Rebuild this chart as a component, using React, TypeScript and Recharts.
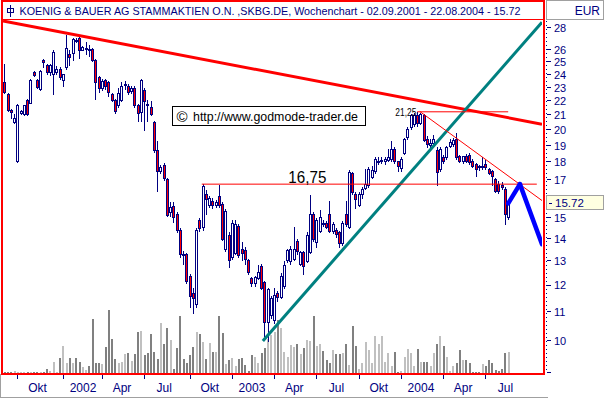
import React from 'react';
import { ComposedChart, Bar, XAxis, YAxis, ReferenceLine, ReferenceDot } from 'recharts';

const NAVY = '#000080';
const FONT = '"Liberation Sans", Arial, sans-serif';

// Weekly candles, week 0 = 03.09.2001 ... week 155 = 16.08.2004
const openP = [
  23.47, 22.5, 21.4, 20.55, 18.05, 21.2, 21.1, 22.1, 21.9, 24.2,
  23.6, 22.9, 25.2, 24.8, 24.2, 24.05, 24.2, 24.5, 23.6, 24.6,
  25.7, 25.8, 26.95, 27.05, 26.05, 26.2, 26.15, 26.1, 25.2, 23.8,
  22.95, 23.6, 23.4, 22.5, 22.1, 21.7, 22.1, 23.2, 23.1, 22.75,
  22.95, 21.7, 21.25, 22.8, 21.8, 21.6, 20.55, 18.75, 17.5, 17.85,
  17.05, 15.3, 15.6, 15.2, 14.4, 13.3, 13.3, 12.4, 11.7, 11.3,
  14.9, 14.55, 16.2, 15.65, 15.85, 15.65, 16.1, 15.7, 13.55, 14.15,
  13.2, 13.35, 14.6, 13.55, 13.5, 13.05, 12.3, 12.1, 12.3, 12.8,
  12.15, 10.65, 10.9, 10.7, 11.7, 11.55, 12.0, 13.05, 13.0, 13.1,
  13.9, 12.9, 13.4, 13.0, 13.4, 15.2, 13.85, 14.35, 14.75, 14.75,
  15.2, 14.35, 14.4, 14.3, 13.8, 15.2, 14.55, 17.35, 16.2, 15.65,
  16.2, 16.55, 16.7, 17.15, 17.5, 18.05, 18.1, 18.05, 18.15, 18.2,
  18.8, 18.05, 17.65, 18.55, 19.55, 20.2, 20.4, 21.0, 20.5, 21.05,
  19.4, 19.05, 19.15, 18.75, 17.6, 18.3, 18.3, 19.0, 19.1, 19.45,
  18.35, 18.1, 18.4, 18.45, 18.1, 17.9, 17.8, 17.7, 17.9, 17.6,
  17.5, 17.05, 16.75, 16.7, 16.5, 15.05,
];
const highP = [
  24.9, 22.6, 21.45, 21.1, 21.8, 21.4, 21.75, 22.2, 23.65, 24.3,
  23.7, 24.4, 25.3, 24.9, 24.9, 26.0, 24.7, 24.6, 24.1, 27.4,
  26.0, 27.1, 27.1, 27.2, 26.4, 26.7, 26.5, 26.2, 25.3, 23.9,
  23.7, 23.7, 23.5, 22.6, 22.2, 23.0, 23.4, 23.5, 23.3, 23.1,
  23.1, 21.8, 23.7, 23.0, 22.1, 22.0, 20.6, 19.3, 17.85, 17.95,
  17.1, 15.8, 15.8, 15.3, 14.5, 13.45, 13.35, 12.45, 11.9, 14.5,
  15.0, 16.75, 16.45, 16.1, 16.0, 15.9, 16.7, 15.8, 15.45, 14.3,
  14.9, 14.9, 14.7, 13.85, 13.6, 13.1, 12.35, 12.4, 12.85, 12.9,
  12.2, 11.9, 11.6, 11.9, 11.8, 12.5, 13.0, 13.55, 13.65, 14.55,
  14.0, 13.45, 13.45, 14.3, 16.15, 15.3, 15.0, 15.4, 14.9, 14.85,
  15.85, 14.8, 14.5, 14.35, 14.85, 15.85, 17.55, 17.45, 16.3, 16.3,
  16.6, 17.6, 17.7, 17.8, 18.3, 18.3, 18.3, 18.3, 18.8, 19.3,
  18.9, 18.1, 18.3, 19.5, 20.2, 21.1, 21.15, 21.25, 21.2, 21.1,
  19.6, 19.4, 19.7, 18.9, 18.95, 18.45, 19.0, 19.4, 19.5, 19.8,
  18.45, 18.4, 18.5, 18.55, 18.2, 17.95, 17.85, 18.3, 18.15, 17.65,
  17.55, 17.1, 16.9, 16.85, 16.6, 15.85,
];
const lowP = [
  22.6, 21.3, 20.85, 20.5, 18.0, 21.1, 21.05, 21.05, 21.85, 23.9,
  23.0, 22.85, 24.6, 24.1, 24.0, 22.5, 24.1, 23.7, 23.1, 24.5,
  24.8, 25.2, 26.7, 25.4, 26.0, 25.7, 25.5, 25.1, 22.2, 22.7,
  22.8, 22.9, 22.4, 22.0, 21.2, 21.6, 22.0, 22.9, 22.5, 22.6,
  21.6, 20.6, 20.6, 20.0, 20.6, 21.0, 18.6, 16.4, 17.4, 17.0,
  15.1, 15.1, 14.8, 14.3, 13.2, 12.9, 12.1, 11.2, 10.95, 11.2,
  14.35, 14.4, 15.2, 15.55, 15.5, 15.55, 15.55, 13.95, 13.45, 12.75,
  13.1, 13.3, 13.2, 13.05, 12.9, 12.45, 12.0, 12.0, 12.25, 11.85,
  10.15, 10.0, 10.8, 10.6, 11.4, 11.5, 11.9, 12.95, 12.9, 13.05,
  13.3, 12.85, 12.45, 12.95, 13.35, 13.9, 13.6, 14.3, 14.6, 14.5,
  14.3, 14.25, 14.1, 13.6, 13.7, 14.6, 14.5, 16.2, 15.5, 15.6,
  16.0, 16.5, 16.6, 17.1, 17.4, 17.9, 17.95, 17.9, 18.1, 18.1,
  17.95, 17.5, 17.5, 18.5, 19.4, 20.1, 20.3, 20.3, 20.4, 19.3,
  18.95, 18.8, 19.0, 16.7, 17.5, 17.95, 18.2, 18.9, 19.0, 18.2,
  18.0, 17.95, 18.0, 17.9, 17.7, 17.2, 17.55, 17.6, 17.6, 17.3,
  16.7, 16.3, 16.25, 16.5, 14.7, 14.95,
];
const closeP = [
  22.7, 21.4, 21.25, 20.85, 21.75, 21.3, 21.7, 21.1, 23.6, 23.95,
  23.05, 24.3, 25.0, 24.2, 24.8, 25.9, 24.5, 23.8, 24.05, 26.2,
  25.45, 27.0, 26.8, 26.05, 26.3, 26.25, 26.1, 25.2, 23.4, 23.0,
  23.55, 23.1, 22.7, 22.1, 21.3, 22.6, 23.1, 23.25, 22.65, 22.95,
  21.7, 21.2, 23.6, 22.05, 21.75, 21.1, 18.75, 17.5, 17.75, 17.1,
  15.15, 15.55, 15.05, 14.4, 13.3, 13.28, 12.2, 11.6, 11.5, 14.4,
  14.5, 16.65, 15.95, 16.0, 15.65, 15.8, 15.65, 14.0, 15.35, 13.05,
  14.75, 14.7, 13.25, 13.35, 13.1, 12.55, 12.1, 12.35, 12.55, 11.9,
  10.65, 11.85, 11.5, 11.65, 11.55, 12.4, 12.85, 13.5, 13.55, 13.55,
  13.45, 13.4, 12.8, 14.15, 15.2, 14.0, 14.9, 15.05, 14.7, 14.55,
  14.35, 14.7, 14.2, 13.8, 14.75, 14.7, 17.45, 16.3, 15.95, 16.2,
  16.5, 16.75, 17.6, 17.55, 18.2, 18.1, 18.15, 18.2, 18.3, 18.8,
  18.05, 17.8, 18.2, 19.45, 20.1, 21.0, 21.0, 20.5, 21.1, 19.35,
  19.1, 19.2, 19.45, 17.45, 18.8, 18.1, 18.9, 19.25, 19.35, 18.3,
  18.1, 18.35, 18.1, 18.0, 17.8, 17.6, 17.7, 17.8, 17.75, 17.4,
  17.2, 16.4, 16.35, 16.6, 15.2, 15.72,
];
// weekly volume (relative units)
const volume = [
  1.4, 0.6, 0.6, 2.4, 1, 1, 1, 1, 1, 0.8,
  1, 1, 0.8, 3.8, 2.4, 11, 1.5, 15.2, 26.6, 10,
  15.2, 10, 15.2, 11, 5.9, 3.1, 7.3, 54, 10, 10,
  9.3, 25.6, 63, 34.3, 14.2, 10, 11, 18.7, 20.4, 12.5,
  18.7, 41.2, 42.2, 17.6, 19.7, 39.1, 21.1, 14.2, 50.5, 28.7,
  45.3, 33.2, 3.8, 24.6, 56.7, 14.2, 10, 17.6, 25.6, 41.2,
  39.4, 30.8, 14.2, 29.8, 21.5, 21.5, 56.7, 40.1, 9.3, 12.8,
  15.2, 7.3, 14.2, 15.2, 8.3, 2.1, 18.3, 16.3, 10, 20.4,
  24.6, 34.3, 37.7, 41.2, 52.6, 44.6, 21.1, 16.3, 28, 26.3,
  28.7, 18.7, 25.3, 32.9, 32.2, 56.7, 27.3, 29.1, 22.1, 12.8,
  10, 22.8, 19.4, 19.4, 20.4, 28.7, 8.3, 47.4, 26.6, 3.8,
  10, 30.8, 23.2, 10, 37, 29.1, 37, 11, 19.7, 7.3,
  21.1, 1, 2.4, 16.3, 23.9, 19.7, 7.3, 23.9, 11, 11,
  11, 7.3, 20.4, 29.1, 37, 26.6, 16.3, 2.4, 7.3, 10,
  23.2, 12.8, 12.8, 10, 1.4, 1.4, 1.4, 9.3, 6.6, 12.8,
  10, 3.1, 1.7, 3.8, 20.4, 21.5,
];

const titleName = 'KOENIG & BAUER AG STAMMAKTIEN O.N. ,SKBG.DE, Wochenchart';
const periodStart = '02.09.2001';
const periodEnd = '22.08.2004';
const currency = 'EUR';
const copyright = 'http://www.godmode-trader.de';

const xTickWeeks = [4, 18, 30, 43, 57, 70, 83, 96, 109, 122, 135, 148];
const xTickLabels = ['Okt', '2002', 'Apr', 'Jul', 'Okt', '2003', 'Apr', 'Jul', 'Okt', '2004', 'Apr', 'Jul'];
const yTicks = [9, 10, 11, 12, 13, 14, 15, 17, 18, 19, 20, 21, 22, 23, 24, 25, 26, 28];

const xDomain: [number, number] = [-0.46, 165.4];
const yDomain: [number, number] = [9, 28.74];

// drawn analysis: (week, price)
const resistanceLevel = 16.75;
const resistanceWeeks = [60.7, 163.8];
const topLevel = 21.25;
const topWeeks = [127.0, 155.0];
const downTrend = [{ x: -0.46, y: 28.65 }, { x: 165.4, y: 20.4 }];
const upTrend = [{ x: 79.5, y: 10.0 }, { x: 165.4, y: 28.53 }];
const shortTrend = [{ x: 127.8, y: 21.27 }, { x: 165.4, y: 15.87 }];
const projection = [{ x: 155, y: 15.72 }, { x: 158.6, y: 16.75 }, { x: 165.4, y: 13.75 }];
const resistanceLabelWeek = 93.2;
const topLabelWeek = 123.5;

const lastClose = closeP[closeP.length - 1];
const fmtDe = (v: number) => v.toFixed(2).replace('.', ',');

const rows = openP.map((o, i) => ({
  i,
  open: o,
  high: highP[i],
  low: lowP[i],
  close: closeP[i],
  range: [lowP[i], highP[i]],
  vol: volume[i],
}));

const Candle = (props: any) => {
  const { x, y, width, height, payload } = props;
  if (x == null || y == null || !payload) return null;
  const top = Math.min(y, y + height);
  const h = Math.abs(height);
  const { open, close, high, low } = payload;
  const lh = Math.log(high);
  const ll = Math.log(low);
  const toY = (p: number) => (lh === ll ? top : top + (h * (lh - Math.log(p))) / (lh - ll));
  const n = Math.round(x + width / 2);
  const t = Math.round(toY(Math.max(open, close)));
  const b = Math.round(toY(Math.min(open, close)));
  const up = close >= open;
  return (
    <g>
      <line x1={n + 0.5} x2={n + 0.5} y1={Math.round(top)} y2={Math.round(top + h) + 1} stroke={NAVY} strokeWidth={1} />
      <rect x={n - 0.5} y={t + 0.5} width={2} height={Math.max(b - t, 1)} fill={up ? '#ffffff' : '#ff0000'} stroke={NAVY} strokeWidth={1} />
    </g>
  );
};

const VolBar = (props: any) => {
  const { x, y, width, height, payload } = props;
  if (x == null || y == null || !payload) return null;
  const top = Math.round(Math.min(y, y + height));
  const bot = Math.round(Math.max(y, y + height));
  if (bot - top <= 0) return null;
  const n = Math.round(x + width / 2);
  return <rect x={n - 1} y={top} width={2} height={bot - top} fill={payload.close >= payload.open ? '#c0c0c0' : '#808080'} />;
};

const XTick = (props: any) => {
  const { x, y, index } = props;
  const xx = Math.round(x) + 0.5;
  return (
    <g>
      <line x1={xx} x2={xx} y1={y + 2} y2={y + 6} stroke={NAVY} strokeWidth={1} />
      <text x={x + 20} y={y + 19} textAnchor="middle" fontSize={12} fill={NAVY} fontFamily={FONT}>
        {xTickLabels[index]}
      </text>
    </g>
  );
};

const YTick = (props: any) => {
  const { x, y, payload } = props;
  const yy = Math.round(y) - 0.5;
  return (
    <g>
      <line x1={x + 5} x2={x + 9} y1={yy} y2={yy} stroke={NAVY} strokeWidth={1} />
      {y < 368 && (
        <text x={x + 12} y={y} dy="0.36em" fontSize={11} fill={NAVY} fontFamily={FONT}>
          {payload.value}
        </text>
      )}
    </g>
  );
};

const PriceTag = (props: any) => {
  const { cx, cy } = props;
  const yy = Math.round(cy);
  return (
    <g>
      <rect x={cx + 4.5} y={yy - 7.5} width={57} height={14} fill="#ffffe1" stroke="#a0a0a0" strokeWidth={1} />
      <line x1={cx + 7} x2={cx + 10} y1={yy + 0.5} y2={yy + 0.5} stroke={NAVY} strokeWidth={1} />
      <text x={cx + 13} y={yy} dy="0.38em" fontSize={11.5} fill={NAVY} fontFamily={FONT}>
        {lastClose.toFixed(2)}
      </text>
    </g>
  );
};

const ResistanceLabel = (props: any) => (
  <text x={props.cx} y={props.cy - 1} textAnchor="middle" fontSize={17} fill="#000" fontFamily={FONT} textLength={38} lengthAdjust="spacingAndGlyphs">
    {fmtDe(resistanceLevel)}
  </text>
);

const TopLabel = (props: any) => (
  <text x={props.cx} y={props.cy + 4} textAnchor="middle" fontSize={11} fill="#000" fontFamily={FONT} textLength={21} lengthAdjust="spacingAndGlyphs">
    {fmtDe(topLevel)}
  </text>
);

export default function App() {
  const title = `${titleName} - ${periodStart} - ${periodEnd} - ${lastClose.toFixed(2)}`;
  return (
    <div style={{ position: 'absolute', left: 0, top: 0, width: 606, height: 399, background: '#ffffff', overflow: 'hidden' }}>
      <svg width={606} height={399} style={{ position: 'absolute', left: 0, top: 0 }}>
        {/* header */}
        <rect x={2} y={1} width={542} height={373} fill="none" stroke="#ff0000" strokeWidth={2} />
        <line x1={2} x2={544} y1={19.5} y2={19.5} stroke="#ff0000" strokeWidth={1} />
        <rect x={7.5} y={8.5} width={6} height={4} fill="none" stroke={NAVY} strokeWidth={1} />
        <line x1={10.5} x2={10.5} y1={5} y2={17} stroke={NAVY} strokeWidth={1} />
        <text x={19.5} y={15} fontSize={11} fill={NAVY} fontFamily={FONT} textLength={501} lengthAdjust="spacingAndGlyphs">
          {title}
        </text>
        <rect x={546.5} y={0.5} width={57} height={19} fill="#ffffff" stroke="#a0a0a0" strokeWidth={1} />
        <text x={600} y={14.5} textAnchor="end" fontSize={12} fill={NAVY} fontFamily={FONT}>
          {currency}
        </text>
        {/* price axis dotted line */}
        <line x1={546.5} x2={546.5} y1={21} y2={373} stroke={NAVY} strokeWidth={1} strokeDasharray="1 3" />
        {/* bottom axis panel frame */}
        <line x1={0.5} x2={0.5} y1={374} y2={398} stroke="#a0a0a0" strokeWidth={1} />
        <line x1={0} x2={548} y1={397.5} y2={397.5} stroke="#a0a0a0" strokeWidth={1} />
        {/* copyright box */}
        <rect x={172.5} y={106.5} width={193} height={19} fill="#ffffff" stroke="#000000" strokeWidth={1} />
        <text x={176.5} y={122} fontSize={15} fill="#000" fontFamily={FONT}>©</text>
        <text x={193} y={121} fontSize={12} fill="#000" fontFamily={FONT} textLength={165} lengthAdjust="spacingAndGlyphs">
          {copyright}
        </text>
      </svg>
      <div style={{ position: 'absolute', left: 0, top: 0 }}>
        <ComposedChart width={606} height={399} data={rows} margin={{ top: 20, right: 0, bottom: 0, left: 3 }}>
          <XAxis
            dataKey="i"
            type="number"
            domain={xDomain}
            allowDataOverflow
            ticks={xTickWeeks}
            interval={0}
            height={26}
            tickSize={0}
            tickMargin={0}
            axisLine={false}
            tickLine={false}
            tick={<XTick />}
          />
          <XAxis xAxisId="vx" dataKey="i" type="number" domain={xDomain} allowDataOverflow hide />
          <YAxis
            orientation="right"
            type="number"
            scale="log"
            domain={yDomain}
            allowDataOverflow
            ticks={yTicks}
            interval={0}
            width={64}
            tickSize={0}
            tickMargin={0}
            axisLine={false}
            tickLine={false}
            tick={<YTick />}
          />
          <YAxis yAxisId="vol" type="number" domain={[0, 353]} allowDataOverflow hide />
          <Bar xAxisId="vx" yAxisId="vol" dataKey="vol" barSize={2} shape={<VolBar />} isAnimationActive={false} />
          <Bar dataKey="range" barSize={3} shape={<Candle />} isAnimationActive={false} />
          <ReferenceLine segment={downTrend} stroke="#ff0000" strokeWidth={3} ifOverflow="hidden" />
          <ReferenceLine segment={upTrend} stroke="#008080" strokeWidth={3} ifOverflow="hidden" />
          <ReferenceLine
            segment={[{ x: resistanceWeeks[0], y: resistanceLevel }, { x: resistanceWeeks[1], y: resistanceLevel }]}
            stroke="#ff0000"
            strokeWidth={1}
            ifOverflow="hidden"
          />
          <ReferenceLine
            segment={[{ x: topWeeks[0], y: topLevel }, { x: topWeeks[1], y: topLevel }]}
            stroke="#ff0000"
            strokeWidth={1}
            ifOverflow="hidden"
          />
          <ReferenceLine segment={shortTrend} stroke="#ff0000" strokeWidth={1} ifOverflow="hidden" />
          {projection.slice(1).map((p, k) => (
            <ReferenceLine
              key={`proj${k}`}
              segment={[projection[k], p]}
              stroke="#0000ff"
              strokeWidth={4.5}
              strokeLinecap="round"
              ifOverflow="hidden"
            />
          ))}
          <ReferenceDot x={resistanceLabelWeek} y={resistanceLevel} r={1} ifOverflow="visible" shape={ResistanceLabel} />
          <ReferenceDot x={topLabelWeek} y={topLevel} r={1} ifOverflow="visible" shape={TopLabel} />
          <ReferenceDot x={xDomain[1]} y={lastClose} r={1} ifOverflow="visible" shape={PriceTag} />
        </ComposedChart>
      </div>
    </div>
  );
}
